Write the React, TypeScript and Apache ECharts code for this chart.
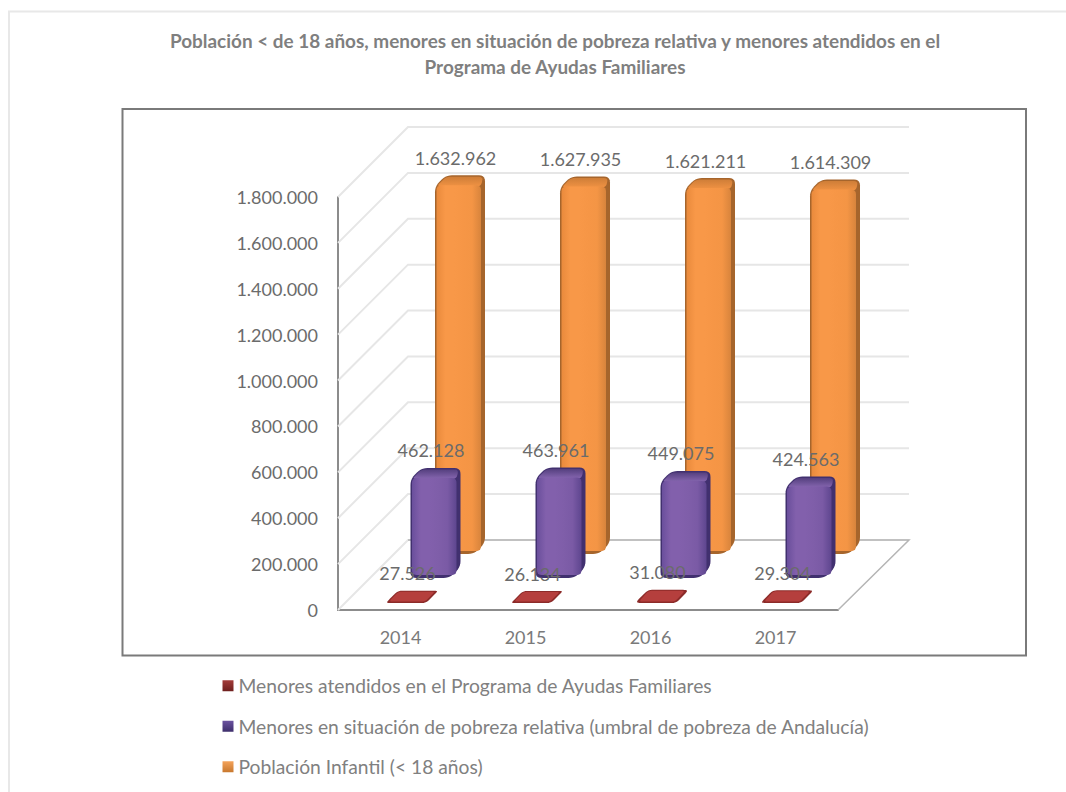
import React, { useEffect, useRef } from "react";
import * as echarts from "echarts";

const categories = ["2014", "2015", "2016", "2017"];
const atendidos = [27526, 26134, 31080, 29304];
const pobreza = [462128, 463961, 449075, 424563];
const poblacion = [1632962, 1627935, 1621211, 1614309];
const gridTicks = [0, 200000, 400000, 600000, 800000, 1000000, 1200000, 1400000, 1600000, 1800000];
const titleText =
  "Población < de 18 años, menores en situación de pobreza relativa y menores atendidos en el\nPrograma de Ayudas Familiares";
const nameAtendidos = "Menores atendidos en el Programa de Ayudas Familiares";
const namePobreza = "Menores en situación de pobreza relativa (umbral de pobreza de Andalucía)";
const namePoblacion = "Población Infantil (< 18 años)";

const FONT = "Lato";
const DEPTH = 70;
const fmt = (v: number) => String(v).replace(/\B(?=(\d{3})+(?!\d))/g, ".");

type Pt = [number, number];
function rounded(pts: Pt[], r: number): Pt[] {
  const out: Pt[] = [];
  const n = pts.length;
  for (let i = 0; i < n; i++) {
    const p = pts[i];
    const a = pts[(i + n - 1) % n];
    const b = pts[(i + 1) % n];
    const la = Math.hypot(a[0] - p[0], a[1] - p[1]) || 1;
    const lb = Math.hypot(b[0] - p[0], b[1] - p[1]) || 1;
    const ra = Math.min(r, la / 2);
    const rb = Math.min(r, lb / 2);
    const s: Pt = [p[0] + ((a[0] - p[0]) / la) * ra, p[1] + ((a[1] - p[1]) / la) * ra];
    const e: Pt = [p[0] + ((b[0] - p[0]) / lb) * rb, p[1] + ((b[1] - p[1]) / lb) * rb];
    for (let k = 0; k <= 5; k++) {
      const t = k / 5;
      out.push([
        (1 - t) * (1 - t) * s[0] + 2 * t * (1 - t) * p[0] + t * t * e[0],
        (1 - t) * (1 - t) * s[1] + 2 * t * (1 - t) * p[1] + t * t * e[1],
      ]);
    }
  }
  return out;
}

const hGrad = (stops: string[]) => ({
  type: "linear",
  x: 0,
  y: 0,
  x2: 1,
  y2: 0,
  colorStops: stops.map((color, i) => ({ offset: i / (stops.length - 1), color })),
});
const vGrad = (stops: string[]) => ({ ...hGrad(stops), x2: 0, y2: 1 });

type Skin = { dark: string; cap: string[]; face: string[] };
const skinOrange: Skin = {
  dark: "#A6652C",
  cap: ["#CF7E38", "#F09243"],
  face: ["#E98A3C", "#F89848", "#F89848", "#F69646", "#F49545", "#D8843C"],
};
const skinPurple: Skin = {
  dark: "#41306F",
  cap: ["#55407F", "#8666B0"],
  face: ["#6A4F9C", "#8260AC", "#8260AC", "#7F5EA9", "#7A5AA5", "#5E468F"],
};
const skinRed: Skin = {
  dark: "#8C2B29",
  cap: ["#A83533", "#B84442"],
  face: ["#B53F3D", "#B53F3D"],
};

function bar3d(dx: number, dy: number, extra: number, skin: Skin) {
  return (params: any, api: any) => {
    const base = api.coord([api.value(0), 0]);
    const top = api.coord([api.value(0), api.value(1)]);
    const cx = base[0] + dx;
    const L = cx - 25;
    const R = cx + 25;
    const B = base[1] - dy;
    const T = top[1] - dy - extra;
    const s = Math.min(11, B - T);
    const sil = rounded(
      [[L + s, T], [R, T], [R, B - s], [R - s, B], [L, B], [L, T + s]] as Pt[],
      B - T > 30 ? 6 : 4
    );
    const children: any[] = [
      { type: "polygon", shape: { points: sil }, style: { fill: skin.dark } },
    ];
    if (B - T > 30) {
      children.push({
        type: "polygon",
        shape: {
          points: rounded(
            [[L + s, T + 1.5], [R - 2, T + 1.5], [R - 4, T + 11], [L + 1.5, T + 11]] as Pt[],
            4
          ),
        },
        style: { fill: vGrad(skin.cap) },
      });
      children.push({
        type: "polygon",
        shape: {
          points: rounded(
            [[L + 1.5, T + 10], [R - 4, T + 10], [R - 4, B - 3], [L + 1.5, B - 3]] as Pt[],
            5
          ),
        },
        style: { fill: hGrad(skin.face) },
      });
    } else {
      children.push({
        type: "polygon",
        shape: {
          points: rounded(
            [[L + s + 0.5, T + 1], [R - 2, T + 1], [R - s - 1, B - 1.5], [L + 2, B - 1.5]] as Pt[],
            3
          ),
        },
        style: { fill: skin.face[0] },
      });
    }
    children.push({
      type: "text",
      z2: 10,
      style: {
        text: fmt(api.value(1)),
        x: cx - 4.5,
        y: T - 17.5,
        textAlign: "center",
        textVerticalAlign: "middle",
        fill: "#6B6B6B",
        font: `18px ${FONT}`,
      },
    });
    return { type: "group", children };
  };
}

function renderGrid(params: any, api: any) {
  const cs = params.coordSys;
  const v = api.value(0);
  const y = api.coord([0, v])[1];
  const l = cs.x;
  const r = cs.x + cs.width;
  const isZero = v === 0;
  const children: any[] = [
    {
      type: "polyline",
      shape: { points: [[l, y], [l + DEPTH, y - DEPTH], [r + DEPTH + 1, y - DEPTH]] },
      style: { fill: "none", stroke: "#E6E6E6", lineWidth: 2 },
    },
  ];
  if (isZero) {
    children.push({
      type: "polyline",
      shape: { points: [[l + DEPTH, y - DEPTH], [r + DEPTH + 1, y - DEPTH], [r, y]] },
      style: { fill: "none", stroke: "#B5B5B5", lineWidth: 1.5 },
    });
  }
  return { type: "group", children };
}

const barSeries = (
  name: string,
  values: number[],
  dx: number,
  dy: number,
  extra: number,
  skin: Skin,
  z: number
) => ({
  type: "custom",
  name,
  z,
  renderItem: bar3d(dx, dy, extra, skin),
  data: values.map((v, i) => [i, v]),
  encode: { x: 0, y: 1 },
  itemStyle: { color: skin.face[1] },
  clip: false,
  silent: true,
});

export default function App() {
  const ref = useRef<HTMLDivElement>(null);
  useEffect(() => {
    const chart = echarts.init(ref.current!, undefined, { renderer: "svg" });
    chart.setOption({
      animation: false,
      backgroundColor: "#fff",
      textStyle: { fontFamily: FONT },
      title: {
        text: titleText,
        left: 550,
        top: 22,
        textAlign: "center",
        textStyle: {
          fontFamily: FONT,
          fontSize: 18.95,
          fontWeight: "bold",
          color: "#7F7F7F",
          lineHeight: 26,
        },
      },
      grid: { left: 338, right: 228, top: 197, bottom: 182, containLabel: false },
      xAxis: {
        type: "category",
        data: categories,
        axisTick: { show: false },
        axisLine: { lineStyle: { color: "#8C8C8C", width: 2 } },
        axisLabel: { color: "#7A7A7A", fontSize: 18, fontFamily: FONT, margin: 18 },
      },
      yAxis: {
        type: "value",
        min: 0,
        max: 1800000,
        interval: 200000,
        splitLine: { show: false },
        axisTick: { show: false },
        axisLine: { show: true, lineStyle: { color: "#8C8C8C", width: 2 } },
        axisLabel: { color: "#6B6B6B", fontSize: 18, fontFamily: FONT, margin: 20, formatter: (v: number) => fmt(v) },
      },
      legend: {
        orient: "vertical",
        left: 217.5,
        top: 670,
        itemWidth: 11,
        itemHeight: 11,
        itemGap: 19,
        icon: "rect",
        selectedMode: false,
        textStyle: { color: "#808080", fontSize: 19.25, fontFamily: FONT, padding: [0, 0, 0, 0], lineHeight: 21.5 },
        data: [
          { name: nameAtendidos, itemStyle: { color: vGrad(["#A33B39", "#6E1F1E"]) } },
          { name: namePobreza, itemStyle: { color: vGrad(["#6B52A0", "#3D2E6B"]) } },
          { name: namePoblacion, itemStyle: { color: vGrad(["#F4A35A", "#C8782E"]) } },
        ],
      },
      graphic: [
        {
          type: "polyline",
          shape: { points: [[9, 792], [9, 11.5], [1066, 11.5]] },
          style: { fill: "none", stroke: "#E8E8E8", lineWidth: 2 },
          z: 0,
        },
        {
          type: "rect",
          shape: { x: 122.5, y: 109, width: 903.5, height: 546.5 },
          style: { fill: "none", stroke: "#7A7A7A", lineWidth: 2 },
          z: 0,
        },
      ],
      series: [
        {
          type: "custom",
          name: "grid",
          z: 1,
          renderItem: renderGrid,
          data: gridTicks.map((v) => [v]),
          encode: { y: 0 },
          clip: false,
          silent: true,
        },
        barSeries(namePoblacion, poblacion, 59.5, 56, 4, skinOrange, 3),
        barSeries(namePobreza, pobreza, 35, 32, 4, skinPurple, 4),
        barSeries(nameAtendidos, atendidos, 11.5, 7, 6, skinRed, 5),
      ],
    });
    return () => chart.dispose();
  }, []);
  return (
    <div
      ref={ref}
      style={{ position: "absolute", left: 0, top: 0, width: 1066, height: 792 }}
    />
  );
}
